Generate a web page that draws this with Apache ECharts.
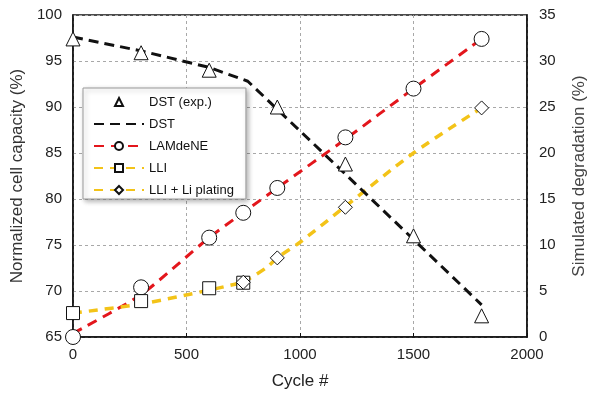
<!DOCTYPE html>
<html>
<head>
<meta charset="utf-8">
<script src="https://cdn.jsdelivr.net/npm/echarts@6/dist/echarts.min.js"></script>
<style>html,body{margin:0;padding:0;background:#fff}#c{width:600px;height:395px}</style>
</head>
<body>
<div id="c"></div>
<script>
// ---- data ----
const xTicks = [0, 500, 1000, 1500, 2000];
const leftTicks = [65, 70, 75, 80, 85, 90, 95, 100];
const rightTicks = [0, 5, 10, 15, 20, 25, 30, 35];

// DST experimental (left axis, capacity %)
const dstExpCycles = [0, 300, 600, 900, 1200, 1500, 1800];
const dstExpCap = [97.4, 95.9, 94.0, 90.0, 83.8, 76.0, 67.3];
// DST simulated line (left axis)
const dstLineCycles = [0, 300, 600, 770, 1000, 1200, 1500, 1800];
const dstLineCap = [97.6, 96.1, 94.3, 92.8, 87.4, 82.7, 75.6, 68.5];
// LAMdeNE (right axis, degradation %)
const lamMarkCycles = [0, 300, 600, 750, 900, 1200, 1500, 1800];
const lamMarkVals = [0, 5.4, 10.8, 13.5, 16.2, 21.7, 27.0, 32.4];
const lamLineCycles = [0, 300, 600, 900, 1200, 1500, 1800];
const lamLineVals = [0.4, 4.6, 10.8, 16.2, 21.5, 27.0, 32.4];
// LLI (right axis)
const lliMarkCycles = [0, 300, 600, 750];
const lliMarkVals = [2.6, 3.9, 5.3, 5.9];
const lliLineCycles = [0, 300, 600, 750];
const lliLineVals = [2.6, 3.6, 5.1, 5.95];
// LLI + Li plating (right axis)
const platMarkCycles = [750, 900, 1200, 1800];
const platMarkVals = [5.95, 8.6, 14.1, 24.9];
const platLineCycles = [750, 850, 900, 1000, 1200, 1500, 1800];
const platLineVals = [5.95, 7.5, 8.6, 10.3, 14.2, 20.0, 24.9];

const legendNames = ['DST (exp.)', 'DST', 'LAMdeNE', 'LLI', 'LLI + Li plating'];

// ---- chart ----
const FONT = "'Liberation Sans', Arial, sans-serif";
const RED = '#e3161c', YEL = '#f3c318', BLK = '#111';
const zip = (a, b) => a.map((x, i) => [x, b[i]]);
const markerStyle = { color: '#fff', borderColor: '#111', borderWidth: 1, opacity: 1 };
const gridLine = { show: true, lineStyle: { color: '#a8a8a8', type: [3, 3], width: 1 } };

const chart = echarts.init(document.getElementById('c'), null, { renderer: 'canvas' });
chart.setOption({
  animation: false,
  textStyle: { fontFamily: FONT },
  grid: { left: 73, right: 73, top: 15, bottom: 52, show: true, borderColor: BLK, borderWidth: 1.5, backgroundColor: 'transparent' },
  xAxis: {
    type: 'value', min: xTicks[0], max: xTicks[xTicks.length - 1], interval: 500,
    name: 'Cycle #', nameLocation: 'middle', nameGap: 36,
    nameTextStyle: { fontSize: 17, color: '#222', fontFamily: FONT },
    axisLine: { show: true, lineStyle: { color: BLK, width: 1.5 } },
    axisTick: { show: true, inside: true, length: 4, lineStyle: { color: BLK } },
    axisLabel: { fontSize: 15, color: '#222', margin: 10, fontFamily: FONT, formatter: v => String(v) },
    splitLine: gridLine
  },
  yAxis: [{
    type: 'value', position: 'left', min: leftTicks[0], max: leftTicks[leftTicks.length - 1], interval: 5,
    name: 'Normalized cell capacity (%)', nameLocation: 'middle', nameRotate: 90, nameGap: 40,
    nameTextStyle: { fontSize: 17, color: '#333', fontFamily: FONT },
    axisLine: { show: true, lineStyle: { color: BLK, width: 1.5 } },
    axisTick: { show: false },
    axisLabel: { fontSize: 15, color: '#222', margin: 11, fontFamily: FONT },
    splitLine: gridLine
  }, {
    type: 'value', position: 'right', min: rightTicks[0], max: rightTicks[rightTicks.length - 1], interval: 5,
    name: 'Simulated degradation (%)', nameLocation: 'middle', nameRotate: 90, nameGap: 44,
    nameTextStyle: { fontSize: 17, color: '#444', fontFamily: FONT },
    axisLine: { show: true, lineStyle: { color: BLK, width: 1.5 } },
    axisTick: { show: false },
    axisLabel: { fontSize: 15, color: '#222', margin: 12, fontFamily: FONT },
    splitLine: { show: false }
  }],
  legend: {
    orient: 'vertical', left: 83, top: 88,
    data: legendNames,
    itemWidth: 50, itemHeight: 10, itemGap: 8,
    padding: [7, 12, 2, 10],
    backgroundColor: '#fff', borderColor: '#9a9a9a', borderWidth: 1,
    shadowColor: 'rgba(0,0,0,0.3)', shadowBlur: 5, shadowOffsetX: 2, shadowOffsetY: 2,
    textStyle: { fontSize: 13, color: '#111', fontFamily: FONT, lineHeight: 14 },
    selectedMode: false
  },
  series: [
    { name: 'DST', type: 'line', yAxisIndex: 0, data: zip(dstLineCycles, dstLineCap),
      symbol: 'none', itemStyle: { opacity: 0 },
      lineStyle: { color: BLK, width: 3, type: [10, 6] }, emphasis: { disabled: true }, z: 3 },
    { name: 'LAMdeNE', type: 'line', yAxisIndex: 1, data: zip(lamLineCycles, lamLineVals),
      symbol: 'circle', showSymbol: false, smooth: 0.2, itemStyle: markerStyle,
      lineStyle: { color: RED, width: 3, type: [10, 7] }, emphasis: { disabled: true }, z: 2 },
    { name: 'LLI', type: 'line', yAxisIndex: 1, data: zip(lliLineCycles, lliLineVals),
      symbol: 'rect', showSymbol: false, smooth: 0.3, itemStyle: markerStyle,
      lineStyle: { color: YEL, width: 3.5, type: [9, 7] }, emphasis: { disabled: true }, z: 2 },
    { name: 'LLI + Li plating', type: 'line', yAxisIndex: 1, data: zip(platLineCycles, platLineVals),
      symbol: 'diamond', showSymbol: false, smooth: 0.3, itemStyle: markerStyle,
      lineStyle: { color: YEL, width: 3.5, type: [9, 7] }, emphasis: { disabled: true }, z: 2 },
    { name: 'LAMdeNE', type: 'scatter', yAxisIndex: 1, data: zip(lamMarkCycles, lamMarkVals),
      symbol: 'circle', symbolSize: 15, itemStyle: markerStyle, clip: false, emphasis: { disabled: true }, z: 5 },
    { name: 'LLI', type: 'scatter', yAxisIndex: 1, data: zip(lliMarkCycles, lliMarkVals),
      symbol: 'rect', symbolSize: 13, itemStyle: markerStyle, clip: false, emphasis: { disabled: true }, z: 5 },
    { name: 'LLI + Li plating', type: 'scatter', yAxisIndex: 1, data: zip(platMarkCycles, platMarkVals),
      symbol: 'diamond', symbolSize: 14, itemStyle: markerStyle, clip: false, emphasis: { disabled: true }, z: 6 },
    // experimental points: markers only (the connecting line is invisible), so the legend shows just the triangle
    { name: 'DST (exp.)', type: 'line', yAxisIndex: 0, data: zip(dstExpCycles, dstExpCap),
      symbol: 'triangle', symbolSize: 14, showSymbol: true, showAllSymbol: true,
      itemStyle: markerStyle, lineStyle: { opacity: 0, width: 0 }, clip: false,
      emphasis: { disabled: true }, z: 6 }
  ]
});
</script>
</body>
</html>
